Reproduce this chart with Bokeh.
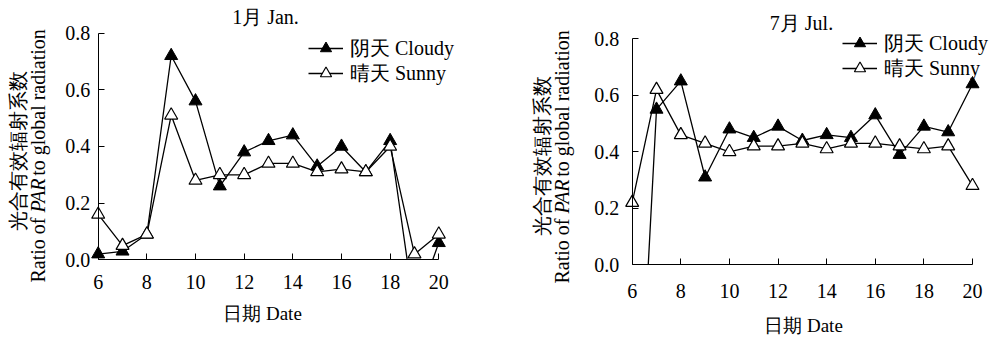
import math
from bokeh.plotting import figure
from bokeh.layouts import row
from bokeh.models import (Range1d, Label, Legend, LegendItem, PrintfTickFormatter,
                          FixedTicker)
from bokeh.embed import file_html
from bokeh.resources import INLINE

# ---------------- data ----------------
dates = [6, 7, 8, 9, 10, 11, 12, 13, 14, 15, 16, 17, 18, 19, 20]
jan_cloudy = [0.02, 0.03, 0.09, 0.72, 0.56, 0.26, 0.38, 0.42, 0.44, 0.33, 0.40, 0.31, 0.42, -0.18, 0.06]
jan_sunny = [0.16, 0.05, 0.09, 0.51, 0.28, 0.30, 0.30, 0.34, 0.34, 0.31, 0.32, 0.31, 0.40, 0.02, 0.09]
jul_cloudy = [-1.07, 0.55, 0.65, 0.31, 0.48, 0.45, 0.49, 0.44, 0.46, 0.45, 0.53, 0.39, 0.49, 0.47, 0.64]
jul_sunny = [0.22, 0.62, 0.46, 0.43, 0.40, 0.42, 0.42, 0.43, 0.41, 0.43, 0.43, 0.42, 0.41, 0.42, 0.28]
x_ticks = [6, 8, 10, 12, 14, 16, 18, 20]
y_ticks = [0.0, 0.2, 0.4, 0.6, 0.8]
titles = ["1月 Jan.", "7月 Jul."]
legend_labels = ["阴天 Cloudy", "晴天 Sunny"]
x_title = "日期 Date"
y_title_cn = "光合有效辐射系数"
y_title_en = ["Ratio of ", "PAR", " to global radiation"]

FONT = "Liberation Serif"
XMIN, XMAX = 6, 20
YMIN, YMAX = 0.0, 0.8


def clip_line(xs, ys):
    """Cut the polyline at y=0, keeping only the part with y >= 0."""
    ox, oy = [], []
    for i in range(len(xs)):
        if i > 0:
            xa, ya, xb, yb = xs[i - 1], ys[i - 1], xs[i], ys[i]
            if (ya < 0) != (yb < 0):
                t = ya / (ya - yb)
                ox.append(xa + t * (xb - xa))
                oy.append(0.0)
                if yb < 0:
                    ox.append(float("nan"))
                    oy.append(float("nan"))
        if ys[i] >= 0:
            ox.append(xs[i])
            oy.append(ys[i])
    return ox, oy


def visible_points(xs, ys):
    pts = [(x, y) for x, y in zip(xs, ys) if y >= 0]
    return [a for a, _ in pts], [b for _, b in pts]


def make_panel(cloudy, sunny, title, geo):
    W, H = 495, 340
    px6, px20, py0, py8 = geo["frame"]
    sxs = (px20 - px6) / (XMAX - XMIN)
    sys_ = (py0 - py8) / (YMAX - YMIN)
    X0 = XMIN - px6 / sxs
    X1 = X0 + W / sxs
    Y1 = YMIN + py0 / sys_
    Y0 = Y1 - H / sys_

    p = figure(width=W, height=H, output_backend="svg", toolbar_location=None,
               x_range=Range1d(X0, X1), y_range=Range1d(Y0, Y1), min_border=0)
    p.min_border_left = 0
    p.min_border_right = 0
    p.min_border_top = 0
    p.min_border_bottom = 0
    p.outline_line_color = None
    p.xgrid.visible = False
    p.ygrid.visible = False
    p.background_fill_color = "white"
    p.border_fill_color = "white"

    def dx(sx):
        return X0 + sx / sxs

    def dy(sy):
        return Y1 - sy / sys_

    xa = p.xaxis[0]
    ya = p.yaxis[0]
    xa.fixed_location = YMIN
    ya.fixed_location = XMIN
    xa.bounds = (XMIN, XMAX)
    ya.bounds = (YMIN, YMAX)
    xa.ticker = FixedTicker(ticks=x_ticks)
    ya.ticker = FixedTicker(ticks=y_ticks)
    ya.formatter = PrintfTickFormatter(format="%.1f")
    for ax in (xa, ya):
        ax.major_tick_in = 6
        ax.major_tick_out = 0
        ax.minor_tick_in = 0
        ax.minor_tick_out = 0
        ax.axis_line_color = "black"
        ax.major_tick_line_color = "black"
        ax.major_label_text_font = FONT
        ax.major_label_text_font_size = "20px"
        ax.major_label_text_color = "black"
    xa.major_label_standoff = geo["xstand"]
    ya.major_label_standoff = geo["ystand"]

    cx, cy = clip_line(dates, cloudy)
    sx_, sy_ = clip_line(dates, sunny)
    mcx, mcy = visible_points(dates, cloudy)
    msx, msy = visible_points(dates, sunny)
    lc = p.line(cx, cy, line_color="black", line_width=1.3)
    ls = p.line(sx_, sy_, line_color="black", line_width=1.3)
    mc = p.scatter(mcx, mcy, marker="triangle", size=13,
                   fill_color="black", line_color="black", line_width=1)
    ms = p.scatter(msx, msy, marker="triangle", size=13,
                   fill_color="white", line_color="black", line_width=1.2)

    for lab, rends, vy in zip(legend_labels, [[lc, mc], [ls, ms]], geo["legend_y"]):
        legend = Legend(items=[LegendItem(label=lab, renderers=rends)],
                        location=(geo["legend_x"], H - vy - 14), orientation="vertical",
                        glyph_width=35, glyph_height=28, label_height=28,
                        label_standoff=7, spacing=0, padding=0, margin=0,
                        border_line_alpha=0, background_fill_alpha=0,
                        label_text_font=FONT, label_text_font_size="20px",
                        label_text_color="black")
        p.add_layout(legend)

    p.add_layout(Label(x=dx(geo["title"][0]), y=dy(geo["title"][1]), text=title,
                       text_align="center", text_baseline="middle",
                       text_font=FONT, text_font_size="20px", text_color="black"))
    p.add_layout(Label(x=dx(geo["xlab"][0]), y=dy(geo["xlab"][1]), text=x_title,
                       text_align="center", text_baseline="middle",
                       text_font=FONT, text_font_size="19px", text_color="black"))
    p.add_layout(Label(x=dx(geo["cn"][0]), y=dy(geo["cn"][1]), text=y_title_cn,
                       angle=math.pi / 2, text_align="center", text_baseline="middle",
                       text_font=FONT, text_font_size="20px", text_color="black"))
    # English y title, with italic PAR: pieces stacked upward from bottom
    fs = 20
    widths = [3.5 * fs, 1.833 * fs, 7.583 * fs]
    bottom = geo["en"][1]
    styles = ["normal", "italic", "normal"]
    for piece, w, st in zip(y_title_en, widths, styles):
        p.add_layout(Label(x=dx(geo["en"][0]), y=dy(bottom), text=piece,
                           angle=math.pi / 2, text_align="left", text_baseline="middle",
                           text_font=FONT, text_font_size=f"{fs}px",
                           text_font_style=st, text_color="black"))
        bottom -= w
    return p


geo_left = dict(frame=(97.7, 438.3, 259.3, 32.6), xstand=15, ystand=8,
                legend_x=308, legend_y=(48, 73), title=(265, 16),
                xlab=(262, 313), cn=(17, 150), en=(37, 282))
geo_right = dict(frame=(136.7, 477.0, 264.3, 38.3), xstand=19, ystand=13,
                 legend_x=347, legend_y=(43, 68), title=(306, 22),
                 xlab=(308, 325), cn=(46, 155), en=(66, 283))

p1 = make_panel(jan_cloudy, jan_sunny, titles[0], geo_left)
p2 = make_panel(jul_cloudy, jul_sunny, titles[1], geo_right)

layout = row(p1, p2)
open("out.html", "w").write(file_html(layout, INLINE))
